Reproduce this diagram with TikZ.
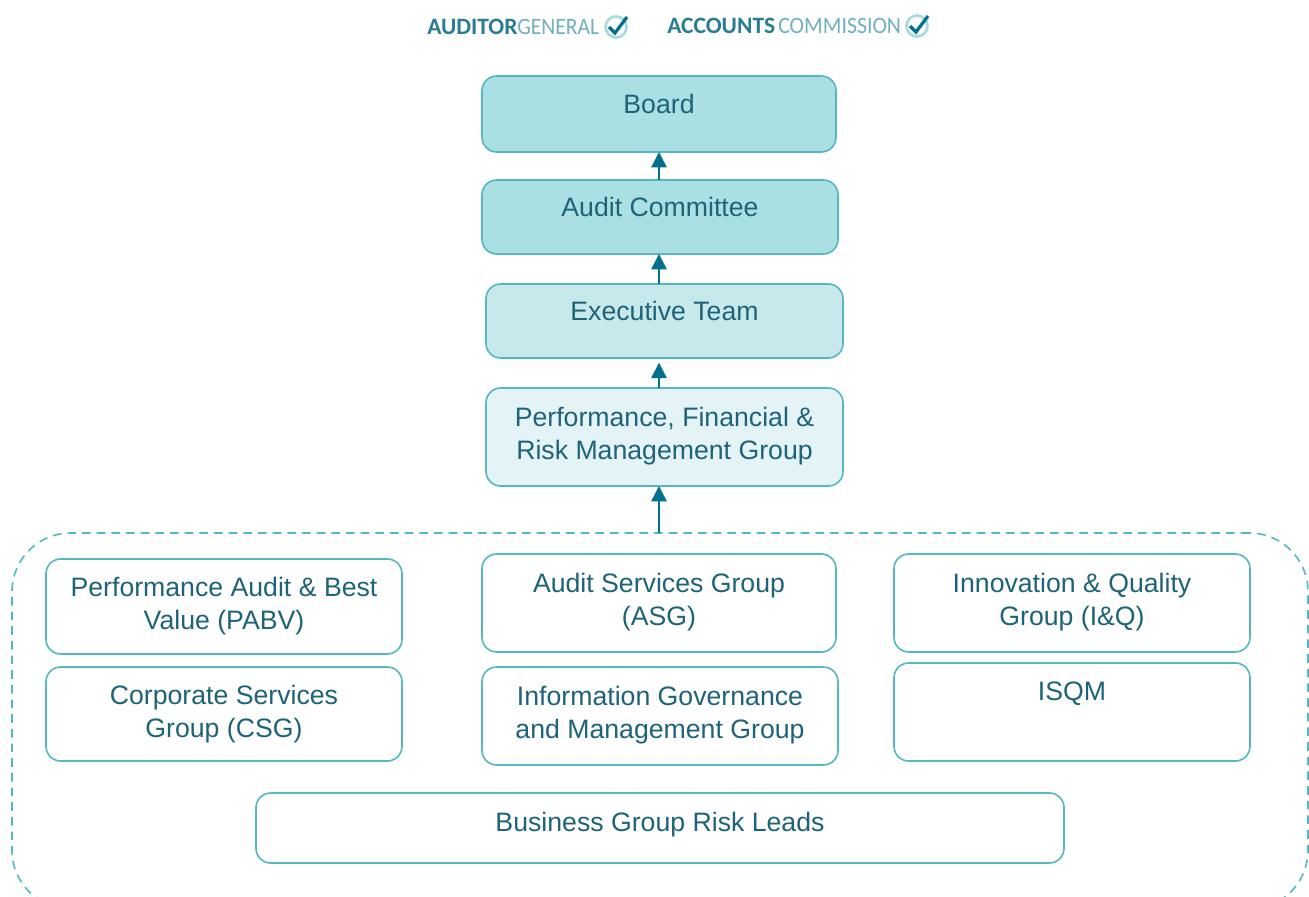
\documentclass[tikz,border=0pt]{standalone}
\usepackage{fontspec}
\setmainfont{Liberation Sans}
\newfontfamily\logofont{Carlito}
\definecolor{tealtext}{HTML}{1E6377}
\definecolor{tealline}{HTML}{55B8C0}
\definecolor{tealarrow}{HTML}{00708C}
\definecolor{fillA}{HTML}{AADFE3}
\definecolor{fillB}{HTML}{C7E9EC}
\definecolor{fillC}{HTML}{E4F4F6}
\definecolor{logotext}{HTML}{2A7C92}
\definecolor{logolight}{HTML}{6FB0BF}
\definecolor{logoring}{HTML}{A6DADF}
\newcommand\up[1]{\rule[-#1\dimexpr.75pt\relax]{0pt}{#1\dimexpr.75pt\relax}}
\usetikzlibrary{arrows.meta}
\tikzset{
  x=.75pt,y=-.75pt,
  orgbox/.style={draw=tealline,line width=1.2pt,rounded corners=11pt,fill=white,
    text=tealtext,font=\fontsize{20pt}{24.8pt}\selectfont,align=center,inner sep=0pt,
    outer sep=0pt,anchor=center},
  flow/.style={draw=tealarrow,line width=1.1pt,-{Triangle[width=11.5pt,length=11.5pt]}},
  logobold/.style={font=\logofont\bfseries\fontsize{17.6pt}{17.6pt}\selectfont,text=logotext,inner sep=0pt,anchor=base west},
  logothin/.style={font=\logofont\fontsize{17.6pt}{17.6pt}\selectfont,text=logolight,inner sep=0pt,anchor=base west},
}
\begin{document}
\begin{tikzpicture}
\useasboundingbox (0,0) rectangle (1309,896);
\clip (0,0) rectangle (1309,896);
% dashed frame
\node[draw=tealline,dash pattern=on 6.5pt off 4.5pt,line width=1.2pt,rounded corners=44pt,
  minimum width=972pt,minimum height=282pt,inner sep=0pt,outer sep=0pt] (frame) at (660,721) {};
% logos
\node[logobold] (ag1) at (427,34) {AUDITOR};
\node[logothin] (ag2) at (517,34) {\scalebox{.92}[1]{GENERAL}};
\node[logobold] (ac1) at (667,33) {ACCOUNTS};
\node[logothin] (ac2) at (778,33) {\scalebox{.93}[1]{COMMISSION}};
\draw[logoring,line width=2pt] (616,27) circle [radius=10.5];
\draw[tealarrow,line width=2.4pt] (609,27) -- (615,33) -- (627,17);
\draw[logoring,line width=2pt] (917,26) circle [radius=10.5];
\draw[tealarrow,line width=2.4pt] (910,26) -- (916,32) -- (928,16);
% boxes
\node[orgbox,fill=fillA,minimum width=265.5pt,minimum height=57pt] (board) at (659,114) {Board\up{20}};
\node[orgbox,fill=fillA,minimum width=267pt,minimum height=55.5pt] (audit) at (660,217) {Audit Committee\up{20}};
\node[orgbox,fill=fillB,minimum width=267.75pt,minimum height=55.5pt] (exec) at (664.5,321) {Executive Team\up{20}};
\node[orgbox,fill=fillC,minimum width=267.75pt,minimum height=73.5pt] (perf) at (664.5,437) {Performance, Financial \&\\Risk Management Group\up{8}};
\node[orgbox,minimum width=267pt,minimum height=71.25pt] (pabv) at (224,606.5) {Performance Audit \& Best\\Value (PABV)};
\node[orgbox,minimum width=265.5pt,minimum height=73.5pt] (asg) at (659,603) {Audit Services Group\\(ASG)\up{8}};
\node[orgbox,minimum width=267pt,minimum height=73.5pt] (iq) at (1072,603) {Innovation \& Quality\\Group (I\&Q)\up{8}};
\node[orgbox,minimum width=267pt,minimum height=70.5pt] (csg) at (224,714) {Corporate Services\\Group (CSG)};
\node[orgbox,minimum width=267pt,minimum height=73.5pt] (ig) at (660,716) {Information Governance\\and Management Group\up{8}};
\node[orgbox,minimum width=267pt,minimum height=73.5pt] (isqm) at (1072,712) {ISQM\up{42}};
\node[orgbox,minimum width=606pt,minimum height=52.5pt] (risk) at (660,828) {Business Group Risk Leads\up{12}};
% connectors
\draw[flow] (audit.north -| board.south) -- (board.south);
\draw[flow] (exec.north -| board.south) -- (audit.south -| board.south);
\draw[flow,shorten >=3.5pt] (perf.north -| board.south) -- (exec.south -| board.south);
\draw[flow] (frame.north -| board.south) -- (perf.south -| board.south);
\end{tikzpicture}
\end{document}
